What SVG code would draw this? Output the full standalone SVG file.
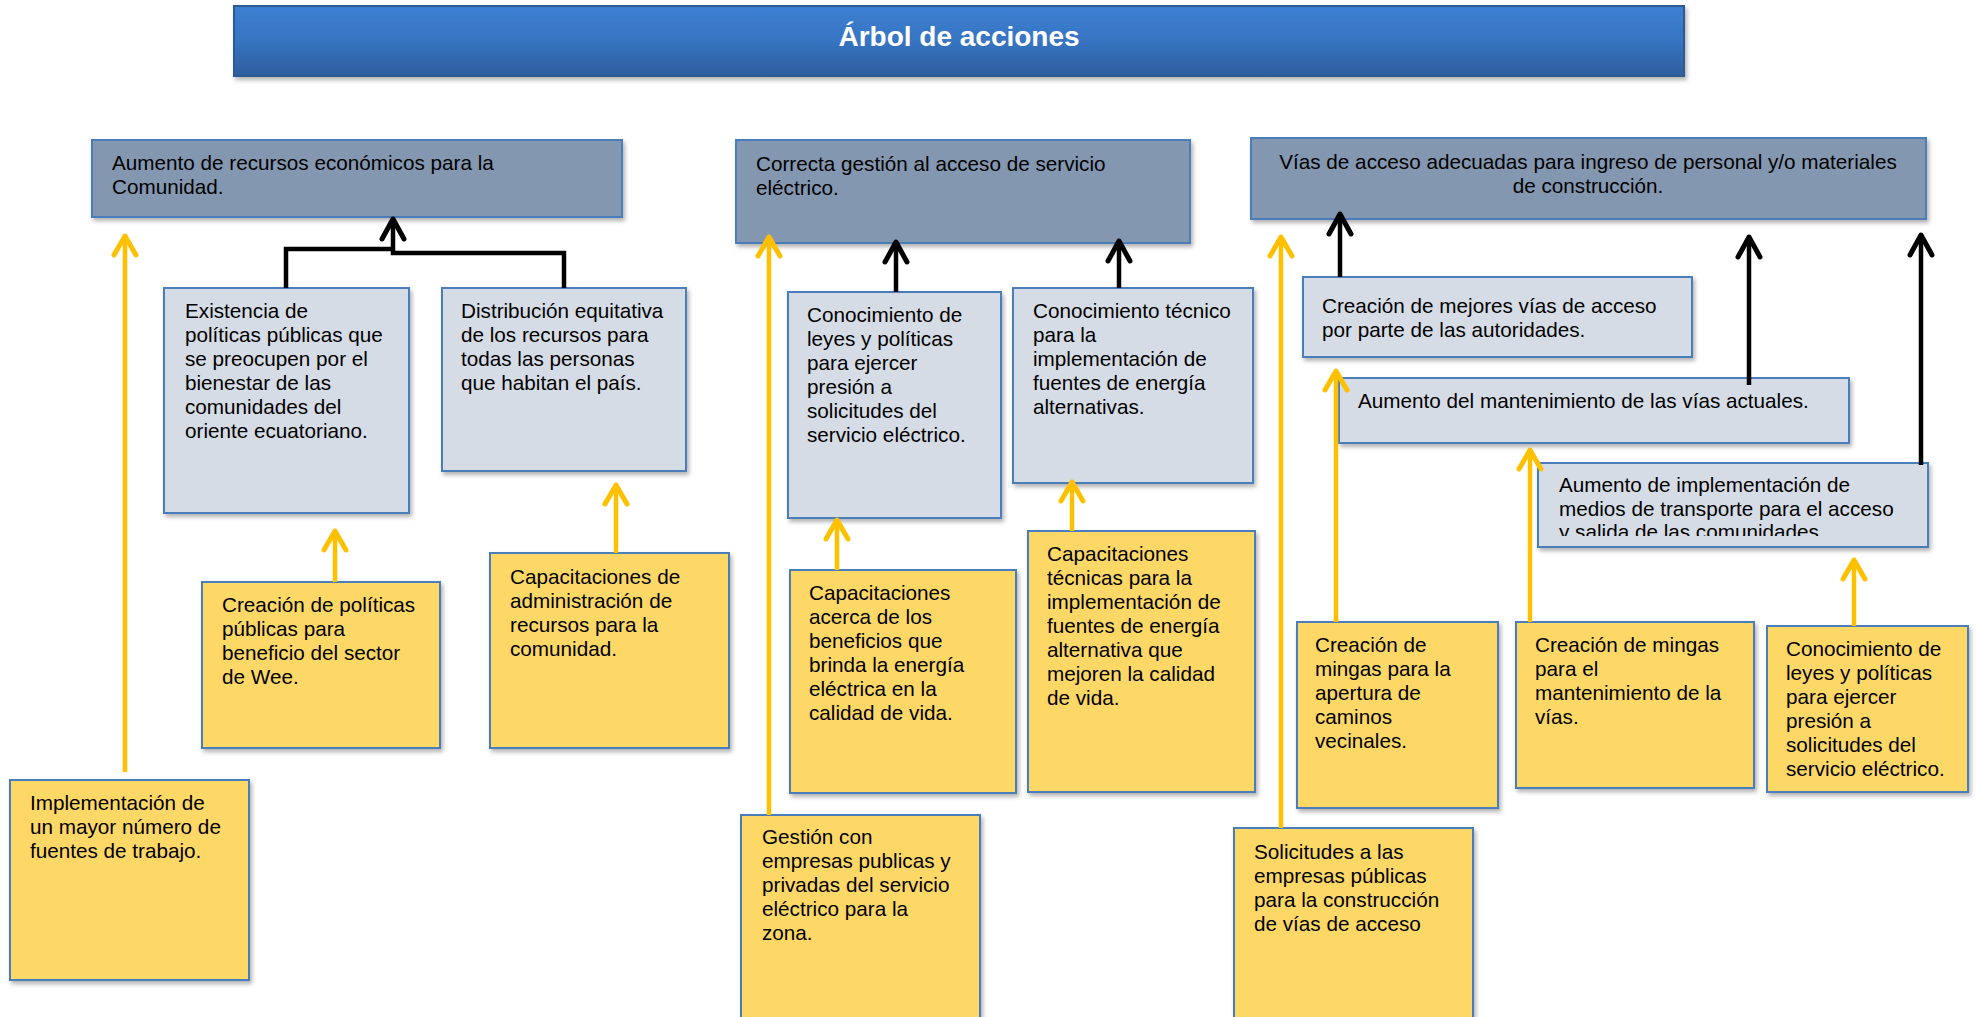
<svg xmlns="http://www.w3.org/2000/svg" width="1977" height="1017" viewBox="0 0 1977 1017">
<defs>
<linearGradient id="titleGrad" x1="0" y1="0" x2="0" y2="1">
<stop offset="0" stop-color="#3d80d2"/>
<stop offset="0.5" stop-color="#3774c2"/>
<stop offset="1" stop-color="#2d5d9c"/>
</linearGradient>
<filter id="shadow" x="-5%" y="-5%" width="115%" height="120%">
<feDropShadow dx="2" dy="3" stdDeviation="2" flood-color="#000" flood-opacity="0.3"/>
</filter>
<marker id="arrowY" markerUnits="userSpaceOnUse" orient="auto" refX="0" refY="0" markerWidth="40" markerHeight="40" viewBox="-30 -20 40 40" overflow="visible">
<path d="M-19,-11 L0,0 L-19,11" fill="none" stroke="#ffc000" stroke-width="5" stroke-linecap="round" stroke-linejoin="round"/>
</marker>
<marker id="arrowK" markerUnits="userSpaceOnUse" orient="auto" refX="0" refY="0" markerWidth="40" markerHeight="40" viewBox="-30 -20 40 40" overflow="visible">
<path d="M-20,-11 L0,0 L-20,11" fill="none" stroke="#000" stroke-width="5" stroke-linecap="round" stroke-linejoin="round"/>
</marker>
<clipPath id="clipN"><rect x="1538" y="463" width="390" height="73"/></clipPath>
</defs>
<style>
.top{fill:#8497b0;stroke:#4a7ebb;stroke-width:2;filter:url(#shadow)}
.mid{fill:#d6dce5;stroke:#4a7ebb;stroke-width:2;filter:url(#shadow)}
.yel{fill:#fed866;stroke:#4a7ebb;stroke-width:2;filter:url(#shadow)}
.t{font-family:"Liberation Sans",Arial,sans-serif;font-size:20.7px;fill:#000}
.yl{fill:none;stroke:#ffc000;stroke-width:4.5;marker-end:url(#arrowY)}
.bl{fill:none;stroke:#000;stroke-width:4.5}
.ba{marker-end:url(#arrowK)}
</style>
<rect width="1977" height="1017" fill="#fff"/>

<g id="title">
<rect x="234" y="6" width="1450" height="70" fill="url(#titleGrad)" stroke="#2f5a92" stroke-width="2" filter="url(#shadow)"/>
<text x="959" y="46" text-anchor="middle" font-family="'Liberation Sans',Arial,sans-serif" font-size="28px" font-weight="bold" fill="#fff">Árbol de acciones</text>
</g>

<g id="nodeA">
<rect class="top" x="92" y="140" width="530" height="77"/>
<text class="t" x="112" y="170"><tspan x="112">Aumento de recursos económicos para la</tspan><tspan x="112" dy="24">Comunidad.</tspan></text>
</g>
<g id="nodeB">
<rect class="mid" x="164" y="288" width="245" height="225"/>
<text class="t" y="318"><tspan x="185">Existencia de</tspan><tspan x="185" dy="24">políticas públicas que</tspan><tspan x="185" dy="24">se preocupen por el</tspan><tspan x="185" dy="24">bienestar de las</tspan><tspan x="185" dy="24">comunidades del</tspan><tspan x="185" dy="24">oriente ecuatoriano.</tspan></text>
</g>
<g id="nodeC">
<rect class="mid" x="442" y="288" width="244" height="183"/>
<text class="t" y="318"><tspan x="461">Distribución equitativa</tspan><tspan x="461" dy="24">de los recursos para</tspan><tspan x="461" dy="24">todas las personas</tspan><tspan x="461" dy="24">que habitan el país.</tspan></text>
</g>
<g id="nodeCP">
<rect class="yel" x="202" y="582" width="238" height="166"/>
<text class="t" y="612"><tspan x="222">Creación de políticas</tspan><tspan x="222" dy="24">públicas para</tspan><tspan x="222" dy="24">beneficio del sector</tspan><tspan x="222" dy="24">de Wee.</tspan></text>
</g>
<g id="nodeCA">
<rect class="yel" x="490" y="553" width="239" height="195"/>
<text class="t" y="584"><tspan x="510">Capacitaciones de</tspan><tspan x="510" dy="24">administración de</tspan><tspan x="510" dy="24">recursos para la</tspan><tspan x="510" dy="24">comunidad.</tspan></text>
</g>
<g id="nodeIM">
<rect class="yel" x="10" y="780" width="239" height="200"/>
<text class="t" y="810"><tspan x="30">Implementación de</tspan><tspan x="30" dy="24">un mayor número de</tspan><tspan x="30" dy="24">fuentes de trabajo.</tspan></text>
</g>

<g id="nodeD">
<rect class="top" x="736" y="140" width="454" height="103"/>
<text class="t" y="171"><tspan x="756">Correcta gestión al acceso de servicio</tspan><tspan x="756" dy="24">eléctrico.</tspan></text>
</g>
<g id="nodeE">
<rect class="mid" x="788" y="292" width="213" height="226"/>
<text class="t" y="322"><tspan x="807">Conocimiento de</tspan><tspan x="807" dy="24">leyes y políticas</tspan><tspan x="807" dy="24">para ejercer</tspan><tspan x="807" dy="24">presión a</tspan><tspan x="807" dy="24">solicitudes del</tspan><tspan x="807" dy="24">servicio eléctrico.</tspan></text>
</g>
<g id="nodeF">
<rect class="mid" x="1013" y="288" width="240" height="195"/>
<text class="t" y="318"><tspan x="1033">Conocimiento técnico</tspan><tspan x="1033" dy="24">para la</tspan><tspan x="1033" dy="24">implementación de</tspan><tspan x="1033" dy="24">fuentes de energía</tspan><tspan x="1033" dy="24">alternativas.</tspan></text>
</g>
<g id="nodeG">
<rect class="yel" x="790" y="570" width="226" height="223"/>
<text class="t" y="600"><tspan x="809">Capacitaciones</tspan><tspan x="809" dy="24">acerca de los</tspan><tspan x="809" dy="24">beneficios que</tspan><tspan x="809" dy="24">brinda la energía</tspan><tspan x="809" dy="24">eléctrica en la</tspan><tspan x="809" dy="24">calidad de vida.</tspan></text>
</g>
<g id="nodeH">
<rect class="yel" x="1028" y="531" width="227" height="261"/>
<text class="t" y="561"><tspan x="1047">Capacitaciones</tspan><tspan x="1047" dy="24">técnicas para la</tspan><tspan x="1047" dy="24">implementación de</tspan><tspan x="1047" dy="24">fuentes de energía</tspan><tspan x="1047" dy="24">alternativa que</tspan><tspan x="1047" dy="24">mejoren la calidad</tspan><tspan x="1047" dy="24">de vida.</tspan></text>
</g>
<g id="nodeI">
<rect class="yel" x="741" y="815" width="239" height="205"/>
<text class="t" y="844"><tspan x="762">Gestión con</tspan><tspan x="762" dy="24">empresas publicas y</tspan><tspan x="762" dy="24">privadas del servicio</tspan><tspan x="762" dy="24">eléctrico para la</tspan><tspan x="762" dy="24">zona.</tspan></text>
</g>

<g id="nodeK">
<rect class="top" x="1251" y="138" width="675" height="81"/>
<text class="t" y="169" text-anchor="middle"><tspan x="1588">Vías de acceso adecuadas para ingreso de personal y/o materiales</tspan><tspan x="1588" dy="24">de construcción.</tspan></text>
</g>
<g id="nodeL">
<rect class="mid" x="1303" y="277" width="389" height="80"/>
<text class="t" y="313"><tspan x="1322">Creación de mejores vías de acceso</tspan><tspan x="1322" dy="24">por parte de las autoridades.</tspan></text>
</g>
<g id="nodeM">
<rect class="mid" x="1339" y="378" width="510" height="65"/>
<text class="t" x="1358" y="408">Aumento del mantenimiento de las vías actuales.</text>
</g>
<g id="nodeN">
<rect class="mid" x="1538" y="463" width="390" height="84"/>
<text class="t" y="492" clip-path="url(#clipN)"><tspan x="1559">Aumento de implementación de</tspan><tspan x="1559" dy="23.5">medios de transporte para el acceso</tspan><tspan x="1559" dy="23.5">y salida de las comunidades</tspan></text>
</g>
<g id="nodeO">
<rect class="yel" x="1297" y="622" width="201" height="186"/>
<text class="t" y="652"><tspan x="1315">Creación de</tspan><tspan x="1315" dy="24">mingas para la</tspan><tspan x="1315" dy="24">apertura de</tspan><tspan x="1315" dy="24">caminos</tspan><tspan x="1315" dy="24">vecinales.</tspan></text>
</g>
<g id="nodeP">
<rect class="yel" x="1516" y="622" width="238" height="166"/>
<text class="t" y="652"><tspan x="1535">Creación de mingas</tspan><tspan x="1535" dy="24">para el</tspan><tspan x="1535" dy="24">mantenimiento de la</tspan><tspan x="1535" dy="24">vías.</tspan></text>
</g>
<g id="nodeQ">
<rect class="yel" x="1767" y="626" width="201" height="166"/>
<text class="t" y="656"><tspan x="1786">Conocimiento de</tspan><tspan x="1786" dy="24">leyes y políticas</tspan><tspan x="1786" dy="24">para ejercer</tspan><tspan x="1786" dy="24">presión a</tspan><tspan x="1786" dy="24">solicitudes del</tspan><tspan x="1786" dy="24">servicio eléctrico.</tspan></text>
</g>
<g id="nodeJ">
<rect class="yel" x="1234" y="828" width="239" height="192"/>
<text class="t" y="859"><tspan x="1254">Solicitudes a las</tspan><tspan x="1254" dy="24">empresas públicas</tspan><tspan x="1254" dy="24">para la construcción</tspan><tspan x="1254" dy="24">de vías de acceso</tspan></text>
</g>

<g id="connectors">
<path class="bl" d="M286,288 V249 H394"/>
<path class="bl ba" d="M564,288 V253 H393 V219"/>
<path class="yl" d="M125,772 V236"/>
<path class="yl" d="M335,582 V531"/>
<path class="yl" d="M616,553 V485"/>

<path class="bl ba" d="M896,292 V242"/>
<path class="bl ba" d="M1119,288 V241"/>
<path class="yl" d="M769,815 V237"/>
<path class="yl" d="M837,570 V520"/>
<path class="yl" d="M1072,531 V482"/>

<path class="bl ba" d="M1340,277 V214"/>
<path class="bl ba" d="M1749,385 V237"/>
<path class="bl ba" d="M1921,465 V235"/>
<path class="yl" d="M1281,828 V237"/>
<path class="yl" d="M1336,622 V371"/>
<path class="yl" d="M1530,622 V450"/>
<path class="yl" d="M1854,626 V560"/>
</g>
</svg>
